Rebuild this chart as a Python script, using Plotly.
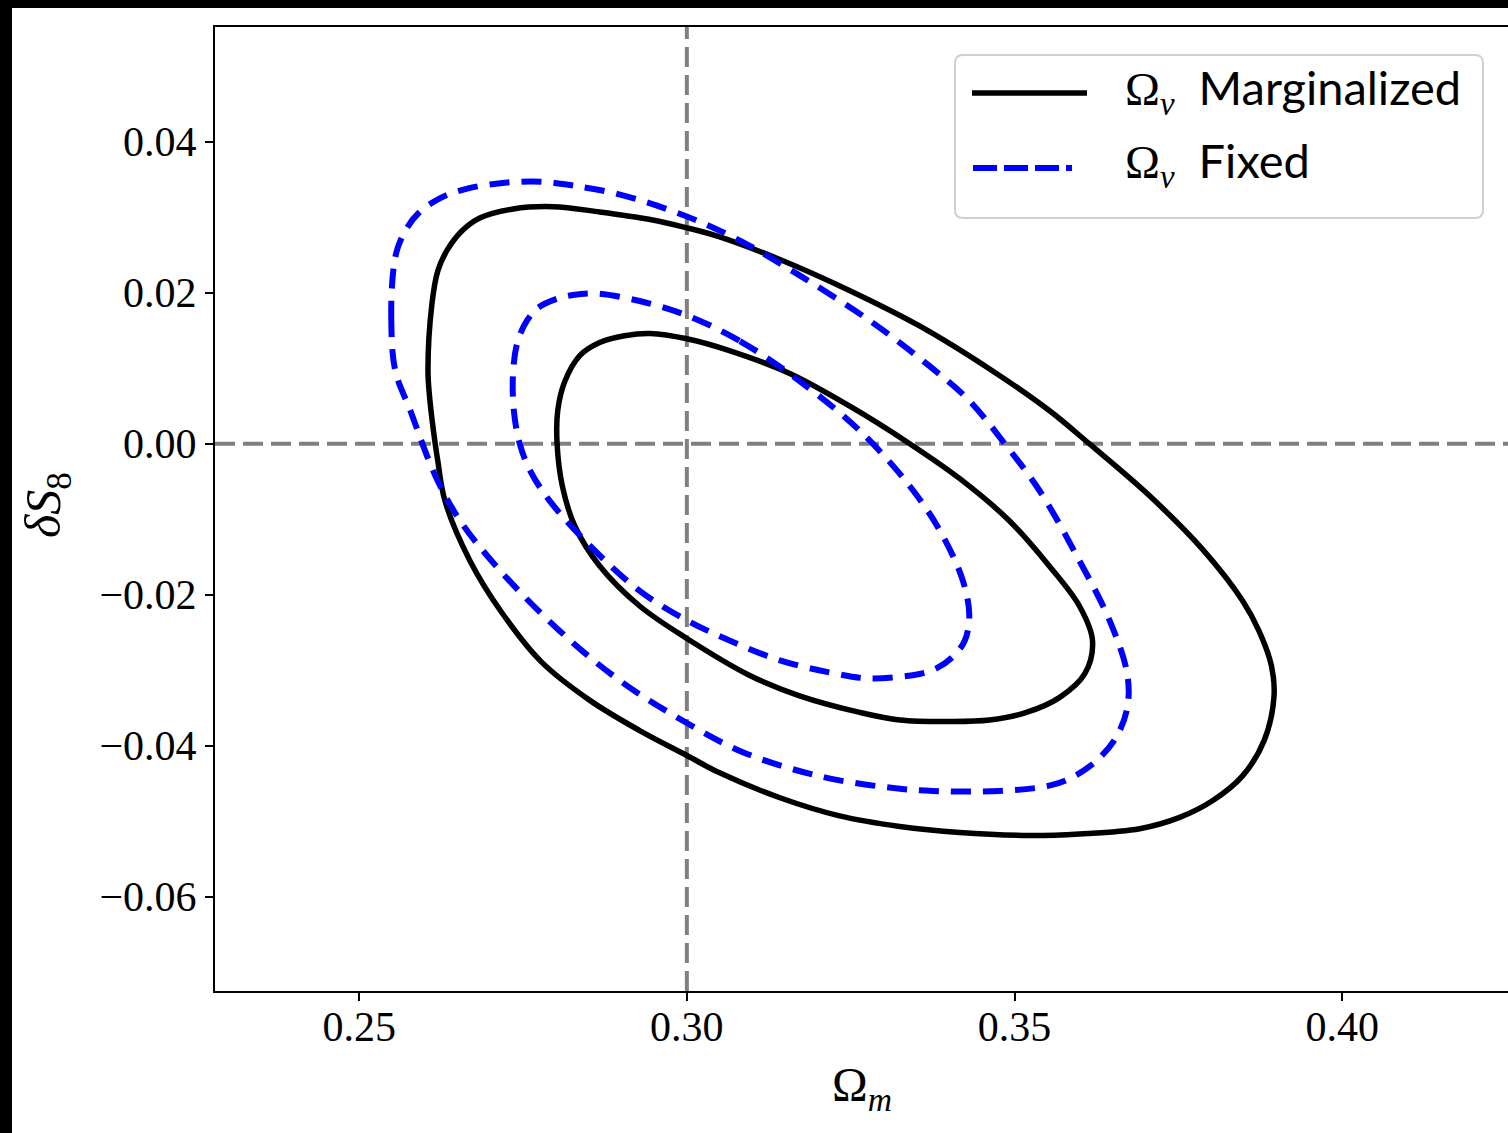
import plotly.graph_objects as go

# ---- data ----
marg_outer_x = [0.2608, 0.2605, 0.2611, 0.2620, 0.2634, 0.2657, 0.2684, 0.2735, 0.2796, 0.2867,
                0.2944, 0.3000, 0.3050, 0.3142, 0.3248, 0.3355, 0.3462, 0.3553, 0.3614, 0.3706,
                0.3787, 0.3848, 0.3873, 0.3892, 0.3896, 0.3881, 0.3848, 0.3802, 0.3752, 0.3691,
                0.3599, 0.3523, 0.3416, 0.3325, 0.3233, 0.3142, 0.3050, 0.3000, 0.2928, 0.2852,
                0.2778, 0.2717, 0.2669, 0.2631, 0.2620, 0.2616, 0.2608]
marg_outer_y = [0.0057, 0.0097, 0.0185, 0.0229, 0.0256, 0.0282, 0.0299, 0.0311, 0.0314, 0.0307,
                0.0297, 0.0286, 0.0274, 0.0244, 0.0203, 0.0156, 0.0099, 0.0044, 0.0000, -0.0069,
                -0.0140, -0.0208, -0.0248, -0.0294, -0.0334, -0.0393, -0.0440, -0.0473, -0.0495, -0.0510,
                -0.0517, -0.0519, -0.0515, -0.0507, -0.0493, -0.0469, -0.0436, -0.0413, -0.0380, -0.0340,
                -0.0289, -0.0223, -0.0155, -0.0076, -0.0023, 0.0000, 0.0057]

marg_inner_x = [0.2802, 0.2803, 0.2814, 0.2837, 0.2867, 0.2905, 0.2944, 0.3000, 0.3066, 0.3157,
                0.3248, 0.3340, 0.3416, 0.3492, 0.3553, 0.3599, 0.3619, 0.3607, 0.3569, 0.3518,
                0.3462, 0.3401, 0.3325, 0.3264, 0.3172, 0.3096, 0.3000, 0.2928, 0.2867, 0.2829,
                0.2810, 0.2802]
marg_inner_y = [0.0000, 0.0044, 0.0083, 0.0117, 0.0134, 0.0143, 0.0146, 0.0139, 0.0123, 0.0093,
                0.0050, 0.0000, -0.0046, -0.0102, -0.0162, -0.0215, -0.0261, -0.0305, -0.0336, -0.0356,
                -0.0366, -0.0368, -0.0366, -0.0356, -0.0334, -0.0307, -0.0258, -0.0215, -0.0162, -0.0109,
                -0.0056, 0.0000]

fixed_outer_x = [0.2555, 0.2549, 0.2552, 0.2559, 0.2573, 0.2590, 0.2623, 0.2665, 0.2726, 0.2780,
                 0.2826, 0.2898, 0.3000, 0.3081, 0.3172, 0.3279, 0.3370, 0.3431, 0.3485, 0.3538,
                 0.3599, 0.3645, 0.3672, 0.3672, 0.3655, 0.3625, 0.3588, 0.3553, 0.3477, 0.3375,
                 0.3325, 0.3233, 0.3157, 0.3081, 0.3000, 0.2898, 0.2806, 0.2715, 0.2654, 0.2616,
                 0.2578, 0.2555]
fixed_outer_y = [0.0097, 0.0163, 0.0229, 0.0260, 0.0286, 0.0305, 0.0325, 0.0338, 0.0346, 0.0347,
                 0.0342, 0.0330, 0.0301, 0.0269, 0.0223, 0.0163, 0.0103, 0.0057, 0.0000, -0.0062,
                 -0.0155, -0.0234, -0.0305, -0.0350, -0.0389, -0.0420, -0.0442, -0.0453, -0.0460, -0.0460,
                 -0.0457, -0.0446, -0.0430, -0.0407, -0.0370, -0.0314, -0.0248, -0.0168, -0.0102, -0.0042,
                 0.0044, 0.0097]

fixed_inner_x = [0.3000, 0.3081, 0.3172, 0.3264, 0.3340, 0.3386, 0.3421, 0.3431, 0.3424, 0.3405,
                 0.3380, 0.3355, 0.3279, 0.3218, 0.3142, 0.3066, 0.3000, 0.2928, 0.2852, 0.2791,
                 0.2761, 0.2745, 0.2736, 0.2735, 0.2742, 0.2756, 0.2773, 0.2802, 0.2826, 0.2860,
                 0.2928, 0.3000]
fixed_inner_y = [0.0170, 0.0136, 0.0083, 0.0017, -0.0056, -0.0115, -0.0181, -0.0228, -0.0261, -0.0283,
                 -0.0298, -0.0305, -0.0311, -0.0303, -0.0287, -0.0261, -0.0234, -0.0195, -0.0135, -0.0076,
                 -0.0036, 0.0000, 0.0044, 0.0097, 0.0136, 0.0163, 0.0180, 0.0192, 0.0197, 0.0199,
                 0.0189, 0.0170]

x_ticks = [0.25, 0.30, 0.35, 0.40]
y_ticks = [-0.06, -0.04, -0.02, 0.00, 0.02, 0.04]
x_ref = 0.30
y_ref = 0.00
GREEK = '<span style="font-family:\'Liberation Serif\'">Ω<sub><i>ν</i></sub></span>'
legend_labels = [GREEK + "&nbsp;&nbsp;Marginalized", GREEK + "&nbsp;&nbsp;Fixed"]

# ---- figure ----
W, H = 1508, 1133
ML, MR, MT, MB = 215, 0, 27, 142
PW, PH = W - ML - MR, H - MT - MB


def px(xp):
    return (xp - ML) / PW


def py(yp):
    return (H - MB - yp) / PH


fig = go.Figure()
black_line = dict(color="black", width=5.5, shape="spline", smoothing=1.0)
blue_line = dict(color="blue", width=6, dash="20px,12px", shape="spline", smoothing=1.0)
fig.add_trace(go.Scatter(x=marg_outer_x, y=marg_outer_y, mode="lines", line=black_line,
                         name="Ω_ν Marginalized", showlegend=False))
fig.add_trace(go.Scatter(x=marg_inner_x, y=marg_inner_y, mode="lines", line=black_line,
                         showlegend=False))
fig.add_trace(go.Scatter(x=fixed_outer_x, y=fixed_outer_y, mode="lines", line=blue_line,
                         name="Ω_ν Fixed", showlegend=False))
fig.add_trace(go.Scatter(x=fixed_inner_x, y=fixed_inner_y, mode="lines", line=blue_line,
                         showlegend=False))

gray = dict(color="#808080", width=4, dash="20px,8px")
shapes = [
    dict(type="line", xref="x", yref="paper", x0=x_ref, x1=x_ref, y0=0, y1=1, line=gray, layer="below"),
    dict(type="line", xref="paper", yref="y", x0=0, x1=1, y0=y_ref, y1=y_ref, line=gray, layer="below"),
]

# legend box (rounded) drawn manually
lx0, lx1, ly0, ly1, r = px(955), px(1483), py(218), py(55), 8
rx, ry = r / PW, r / PH
path = (f"M {lx0+rx},{ly1} L {lx1-rx},{ly1} Q {lx1},{ly1} {lx1},{ly1-ry} "
        f"L {lx1},{ly0+ry} Q {lx1},{ly0} {lx1-rx},{ly0} L {lx0+rx},{ly0} "
        f"Q {lx0},{ly0} {lx0},{ly0+ry} L {lx0},{ly1-ry} Q {lx0},{ly1} {lx0+rx},{ly1} Z")
shapes.append(dict(type="path", xref="paper", yref="paper", path=path,
                   line=dict(color="#d0d0d0", width=2), fillcolor="rgba(255,255,255,0.85)", layer="above"))
shapes.append(dict(type="line", xref="paper", yref="paper", x0=px(972), x1=px(1087), y0=py(93), y1=py(93),
                   line=dict(color="black", width=5.5), layer="above"))
shapes.append(dict(type="line", xref="paper", yref="paper", x0=px(973), x1=px(1072), y0=py(168), y1=py(168),
                   line=dict(color="blue", width=6, dash="24px,7px"), layer="above"))
# black image borders (top and left)
shapes.append(dict(type="rect", xref="paper", yref="paper", x0=px(0), x1=px(12), y0=py(H), y1=py(0),
                   fillcolor="black", line=dict(width=0), layer="above"))
shapes.append(dict(type="rect", xref="paper", yref="paper", x0=px(0), x1=px(W), y0=py(8), y1=py(0),
                   fillcolor="black", line=dict(width=0), layer="above"))

annotations = [
    dict(text=legend_labels[0], xref="paper", yref="paper", x=px(1123), y=py(90), xanchor="left",
         yanchor="middle", showarrow=False, font=dict(family="Lato, DejaVu Sans", size=47, color="black")),
    dict(text=legend_labels[1], xref="paper", yref="paper", x=px(1123), y=py(163), xanchor="left",
         yanchor="middle", showarrow=False, font=dict(family="Lato, DejaVu Sans", size=47, color="black")),
    dict(text="Ω<sub><i>m</i></sub>", xref="paper", yref="paper", x=px(862), y=py(1088), xanchor="center",
         yanchor="middle", showarrow=False, font=dict(family="Liberation Serif", size=48, color="black")),
    dict(text="<i>δS</i><sub>8</sub>", xref="paper", yref="paper", x=px(47), y=py(505), xanchor="center",
         yanchor="middle", textangle=-90, showarrow=False,
         font=dict(family="Liberation Serif", size=50, color="black")),
]

fig.update_layout(
    width=W, height=H,
    margin=dict(l=ML, r=MR, t=MT, b=MB, pad=0),
    paper_bgcolor="white", plot_bgcolor="white",
    showlegend=False,
    shapes=shapes, annotations=annotations,
    xaxis=dict(range=[0.2280, 0.4253], tickvals=x_ticks, tickformat=".2f", showgrid=False, zeroline=False,
               showline=True, linecolor="black", linewidth=2, mirror=True, ticks="outside", ticklen=8,
               tickwidth=1.5, tickcolor="black", ticklabelstandoff=-10,
               tickfont=dict(family="Liberation Serif", size=42, color="black")),
    yaxis=dict(range=[-0.0725, 0.0552], tickvals=y_ticks, tickformat=".2f", showgrid=False, zeroline=False,
               showline=True, linecolor="black", linewidth=2, mirror=False, ticks="outside", ticklen=8,
               tickwidth=1.5, tickcolor="black",
               tickfont=dict(family="Liberation Serif", size=42, color="black")),
)

fig.write_html("out.html")
